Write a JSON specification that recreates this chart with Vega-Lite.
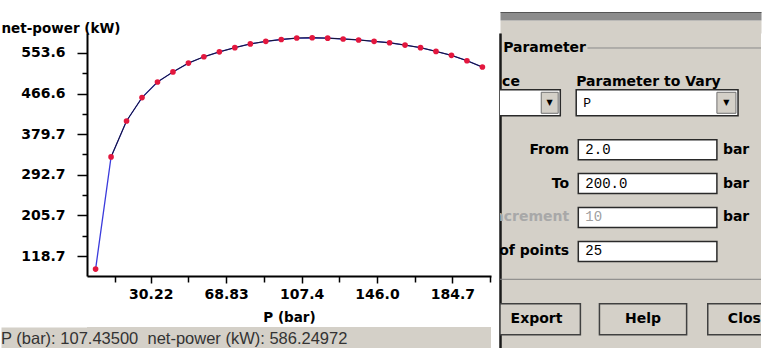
{
 "$schema": "https://vega.github.io/schema/vega-lite/v6.json",
 "background": "white",
 "padding": {"left": 0, "top": 12, "right": 0, "bottom": 0},
 "config": {"view": {"stroke": null}, "font": "DejaVu Sans"},
 "datasets": {
  "curve": [
   {"P": 2, "power": 90.7}, {"P": 9.92, "power": 331}, {"P": 17.84, "power": 408}, {"P": 25.76, "power": 458},
   {"P": 33.68, "power": 491.5}, {"P": 41.6, "power": 513}, {"P": 49.52, "power": 532}, {"P": 57.44, "power": 545.5},
   {"P": 65.36, "power": 556}, {"P": 73.28, "power": 565}, {"P": 81.2, "power": 573}, {"P": 89.12, "power": 578.5},
   {"P": 97.04, "power": 582.5}, {"P": 104.96, "power": 585.6}, {"P": 112.88, "power": 586.2}, {"P": 120.8, "power": 585.4},
   {"P": 128.72, "power": 583.6}, {"P": 136.64, "power": 581.5}, {"P": 144.56, "power": 578.5}, {"P": 152.48, "power": 575.5},
   {"P": 160.4, "power": 570.5}, {"P": 168.32, "power": 565}, {"P": 176.24, "power": 557}, {"P": 184.16, "power": 548.5},
   {"P": 192.08, "power": 537}, {"P": 200, "power": 523.5}
  ],
  "status": [{"text": "P (bar): 107.43500\u00a0\u00a0net-power (kW): 586.24972"}],
  "dialog": [
   {"row": "group", "label": "Parameter"},
   {"row": "header", "pre": "ce", "label": "Parameter to Vary"},
   {"row": "combo", "value": "P"},
   {"row": "from", "kind": "field", "label": "From", "value": "2.0", "unit": "bar"},
   {"row": "to", "kind": "field", "label": "To", "value": "200.0", "unit": "bar"},
   {"row": "inc", "kind": "field", "label": "Increment", "value": "10", "unit": "bar"},
   {"row": "pts", "kind": "field", "label": "# of points", "value": "25"},
   {"row": "sep"},
   {"row": "buttons", "b1": "Export", "b2": "Help", "b3": "Close"}
  ]
 },
 "columns": 2,
 "align": "none",
 "spacing": 8,
 "concat": [
  {
   "columns": 1,
   "align": "none",
   "spacing": 3,
   "concat": [
    {
     "width": 404,
     "height": 243,
     "data": {"name": "curve"},
     "resolve": {"axis": {"x": "independent", "y": "independent"}},
     "layer": [
      {
       "mark": {"type": "line", "color": "#3b3bdc", "strokeWidth": 1.3},
       "encoding": {
        "x": {"field": "P", "type": "quantitative", "scale": {"domain": [-2.4, 204.4], "nice": false, "zero": false},
         "axis": {"orient": "bottom", "values": [30.22, 68.83, 107.44, 146.04, 184.66], "labelExpr": "format(datum.value, '.4r')", "grid": false,
          "domainColor": "#000", "domainWidth": 2, "tickColor": "#000", "tickWidth": 1.5, "tickSize": 7,
          "labelFont": "DejaVu Sans", "labelFontSize": 14, "labelFontWeight": "bold", "labelColor": "#000", "labelPadding": 4,
          "title": "P (bar)", "titleFont": "DejaVu Sans", "titleFontSize": 13.5, "titleFontWeight": "bold", "titleColor": "#000", "titlePadding": 9}},
        "y": {"field": "power", "type": "quantitative", "scale": {"domain": [75.9, 596.4], "nice": false, "zero": false},
         "axis": {"orient": "left", "values": [118.7, 205.7, 292.7, 379.7, 466.6, 553.6], "format": ".1f", "grid": false,
          "domainColor": "#000", "domainWidth": 2, "tickColor": "#000", "tickWidth": 1.5, "tickSize": 10,
          "labelFont": "DejaVu Sans", "labelFontSize": 14, "labelFontWeight": "bold", "labelColor": "#000", "labelPadding": 12,
          "title": "net-power (kW)", "titleAngle": 0, "titleX": -86, "titleY": -18, "titleAlign": "left", "titleBaseline": "line-top", "titleLineHeight": 26,
          "titleFont": "DejaVu Sans", "titleFontSize": 13.5, "titleFontWeight": "bold", "titleColor": "#000"}}
       }
      },
      {
       "transform": [{"filter": "datum.P > 5"}],
       "mark": {"type": "line", "color": "#15152a", "strokeWidth": 1},
       "encoding": {
        "x": {"field": "P", "type": "quantitative",
         "axis": {"orient": "bottom", "values": [11.91, 49.52, 88.13, 126.74, 165.35, 203.96], "labels": false, "domain": false, "grid": false,
          "tickColor": "#000", "tickWidth": 1.5, "tickSize": 6, "title": null}},
        "y": {"field": "power", "type": "quantitative",
         "axis": {"orient": "left", "values": [162.2, 249.2, 336.2, 423.15, 510.1], "labels": false, "domain": false, "grid": false,
          "tickColor": "#000", "tickWidth": 1.5, "tickSize": 5, "title": null}}
       }
      },
      {
       "mark": {"type": "circle", "color": "#e3173e", "opacity": 1, "size": 32},
       "encoding": {
        "x": {"field": "P", "type": "quantitative", "axis": null},
        "y": {"field": "power", "type": "quantitative", "axis": null}
       }
      }
     ]
    },
    {
     "width": 404,
     "height": 22,
     "view": {"fill": "#d4d0c8", "stroke": null},
     "data": {"name": "status"},
     "mark": {"type": "text", "align": "left", "baseline": "middle", "font": "Liberation Sans", "fontSize": 16.5, "color": "#333", "dy": 1},
     "encoding": {
      "x": {"datum": -0.2129, "type": "quantitative", "scale": {"domain": [0, 1]}, "axis": null},
      "y": {"datum": 0.5, "type": "quantitative", "scale": {"domain": [0, 1]},
       "axis": {"orient": "left", "labels": false, "ticks": false, "title": null, "grid": false, "domainColor": "#d4d0c8", "domainWidth": 172}},
      "text": {"field": "text"}
     }
    }
   ]
  },
  {
   "width": 261,
   "height": 315,
   "view": {"fill": "#d4d0c8", "stroke": null},
   "data": {"name": "dialog"},
   "resolve": {"axis": {"x": "independent"}},
   "encoding": {
    "y": {"field": "row", "type": "nominal", "sort": null,
     "scale": {"type": "band", "domain": ["group", "header", "combo", "from", "to", "inc", "pts", "sep", "buttons"], "paddingInner": 0.3, "paddingOuter": 0.296, "align": 0.156},
     "axis": {"labels": false, "ticks": false, "title": null, "grid": false, "domainColor": "#1a1a1a", "domainWidth": 2.5}}
   },
   "layer": [
    {
     "transform": [{"filter": "datum.row === 'group'"}],
     "mark": {"type": "text", "align": "left", "baseline": "middle", "fontSize": 14, "fontWeight": "bold", "color": "#000"},
     "encoding": {"x": {"datum": 0.012, "type": "quantitative", "scale": {"domain": [0, 1]},
       "axis": {"orient": "top", "offset": 6.5, "labels": false, "ticks": false, "title": null, "grid": false, "domainColor": "#d4d0c8", "domainWidth": 13}}, "text": {"field": "label"}}
    },
    {
     "transform": [{"filter": "datum.row === 'group'"}],
     "mark": {"type": "rule", "color": "#8a8a8a", "strokeWidth": 1},
     "encoding": {"x": {"datum": 0.335, "type": "quantitative", "scale": {"domain": [0, 1]},
       "axis": {"orient": "top", "offset": 17, "labels": false, "ticks": false, "title": null, "grid": false, "domainColor": "#8c8c8c", "domainWidth": 8}}, "x2": {"datum": 1}}
    },
    {
     "transform": [{"filter": "datum.row === 'header'"}],
     "mark": {"type": "text", "align": "left", "baseline": "middle", "fontSize": 14, "fontWeight": "bold", "color": "#000"},
     "encoding": {"x": {"datum": 0.008, "type": "quantitative", "scale": {"domain": [0, 1]},
       "axis": {"orient": "top", "offset": 21, "labels": false, "ticks": false, "title": null, "grid": false, "domainColor": "#555555", "domainWidth": 1}}, "text": {"field": "pre"}}
    },
    {
     "transform": [{"filter": "datum.row === 'header'"}],
     "mark": {"type": "text", "align": "left", "baseline": "middle", "fontSize": 14, "fontWeight": "bold", "color": "#000"},
     "encoding": {"x": {"datum": 0.292, "type": "quantitative", "scale": {"domain": [0, 1]}, "axis": null}, "text": {"field": "label"}}
    },
    {
     "transform": [{"filter": "datum.row === 'combo'"}],
     "mark": {"type": "rect", "fill": "#ffffff", "stroke": "#2a2a2a", "strokeWidth": 1.5, "height": 26, "clip": true, "yOffset": -13},
     "encoding": {"x": {"datum": -0.046, "type": "quantitative", "scale": {"domain": [0, 1]}, "axis": null}, "x2": {"datum": 0.231}}
    },
    {
     "transform": [{"filter": "datum.row === 'combo'"}],
     "mark": {"type": "rect", "fill": "#ffffff", "stroke": "#2a2a2a", "strokeWidth": 1.5, "height": 26, "yOffset": -13},
     "encoding": {"x": {"datum": 0.292, "type": "quantitative", "scale": {"domain": [0, 1]}, "axis": null}, "x2": {"datum": 0.912}}
    },
    {
     "transform": [{"filter": "datum.row === 'combo'"}],
     "mark": {"type": "rect", "fill": "#d4d0c8", "stroke": "#707070", "strokeWidth": 1, "height": 21, "yOffset": -13},
     "encoding": {"x": {"datum": 0.158, "type": "quantitative", "scale": {"domain": [0, 1]}, "axis": null}, "x2": {"datum": 0.223}}
    },
    {
     "transform": [{"filter": "datum.row === 'combo'"}],
     "mark": {"type": "rect", "fill": "#d4d0c8", "stroke": "#707070", "strokeWidth": 1, "height": 21, "yOffset": -13},
     "encoding": {"x": {"datum": 0.831, "type": "quantitative", "scale": {"domain": [0, 1]}, "axis": null}, "x2": {"datum": 0.904}}
    },
    {
     "transform": [{"filter": "datum.row === 'combo'"}],
     "mark": {"type": "text", "text": "▼", "fontSize": 8, "color": "#000", "align": "center", "baseline": "middle", "yOffset": -13},
     "encoding": {"x": {"datum": 0.19, "type": "quantitative", "scale": {"domain": [0, 1]}, "axis": null}}
    },
    {
     "transform": [{"filter": "datum.row === 'combo'"}],
     "mark": {"type": "text", "text": "▼", "fontSize": 8, "color": "#000", "align": "center", "baseline": "middle", "yOffset": -13},
     "encoding": {"x": {"datum": 0.867, "type": "quantitative", "scale": {"domain": [0, 1]}, "axis": null}}
    },
    {
     "transform": [{"filter": "datum.row === 'combo'"}],
     "mark": {"type": "text", "align": "left", "baseline": "middle", "font": "Liberation Mono", "fontSize": 13, "color": "#000", "yOffset": -13},
     "encoding": {"x": {"datum": 0.319, "type": "quantitative", "scale": {"domain": [0, 1]}, "axis": null}, "text": {"field": "value"}}
    },
    {
     "transform": [{"filter": "datum.kind === 'field'"}],
     "mark": {"type": "rect", "fill": "#ffffff", "stroke": "#2a2a2a", "strokeWidth": 1.5, "height": 20},
     "encoding": {"x": {"datum": 0.3, "type": "quantitative", "scale": {"domain": [0, 1]}, "axis": null}, "x2": {"datum": 0.831}}
    },
    {
     "transform": [{"filter": "datum.kind === 'field'"}],
     "mark": {"type": "text", "align": "right", "baseline": "middle", "fontSize": 14, "fontWeight": "bold", "clip": true},
     "encoding": {"x": {"datum": 0.265, "type": "quantitative", "scale": {"domain": [0, 1]}, "axis": null},
      "text": {"field": "label"},
      "color": {"condition": {"test": "datum.row === 'inc'", "value": "#a8a8a8"}, "value": "#000"}}
    },
    {
     "transform": [{"filter": "datum.kind === 'field'"}],
     "mark": {"type": "text", "align": "left", "baseline": "middle", "font": "Liberation Mono", "fontSize": 14},
     "encoding": {"x": {"datum": 0.327, "type": "quantitative", "scale": {"domain": [0, 1]}, "axis": null},
      "text": {"field": "value"},
      "color": {"condition": {"test": "datum.row === 'inc'", "value": "#a0a0a0"}, "value": "#000"}}
    },
    {
     "transform": [{"filter": "datum.kind === 'field' && datum.unit != null"}],
     "mark": {"type": "text", "align": "left", "baseline": "middle", "fontSize": 14, "fontWeight": "bold", "color": "#000"},
     "encoding": {"x": {"datum": 0.854, "type": "quantitative", "scale": {"domain": [0, 1]}, "axis": null}, "text": {"field": "unit"}}
    },
    {
     "transform": [{"filter": "datum.row === 'sep'"}],
     "mark": {"type": "rule", "color": "#808080", "strokeWidth": 1, "yOffset": -6},
     "encoding": {"x": {"datum": 0, "type": "quantitative", "scale": {"domain": [0, 1]}, "axis": null}, "x2": {"datum": 1}}
    },
    {
     "transform": [{"filter": "datum.row === 'buttons'"}],
     "mark": {"type": "rect", "fill": "#d4d0c8", "stroke": "#404040", "strokeWidth": 1.5, "height": 31, "clip": true},
     "encoding": {"x": {"datum": 0.0, "type": "quantitative", "scale": {"domain": [0, 1]}, "axis": null}, "x2": {"datum": 0.308}}
    },
    {
     "transform": [{"filter": "datum.row === 'buttons'"}],
     "mark": {"type": "rect", "fill": "#d4d0c8", "stroke": "#404040", "strokeWidth": 1.5, "height": 31},
     "encoding": {"x": {"datum": 0.381, "type": "quantitative", "scale": {"domain": [0, 1]}, "axis": null}, "x2": {"datum": 0.715}}
    },
    {
     "transform": [{"filter": "datum.row === 'buttons'"}],
     "mark": {"type": "rect", "fill": "#d4d0c8", "stroke": "#404040", "strokeWidth": 1.5, "height": 31, "clip": true},
     "encoding": {"x": {"datum": 0.796, "type": "quantitative", "scale": {"domain": [0, 1]}, "axis": null}, "x2": {"datum": 1.2}}
    },
    {
     "transform": [{"filter": "datum.row === 'buttons'"}],
     "mark": {"type": "text", "align": "center", "baseline": "middle", "fontSize": 14, "fontWeight": "bold", "color": "#000"},
     "encoding": {"x": {"datum": 0.14, "type": "quantitative", "scale": {"domain": [0, 1]}, "axis": null}, "text": {"field": "b1"}}
    },
    {
     "transform": [{"filter": "datum.row === 'buttons'"}],
     "mark": {"type": "text", "align": "center", "baseline": "middle", "fontSize": 14, "fontWeight": "bold", "color": "#000"},
     "encoding": {"x": {"datum": 0.548, "type": "quantitative", "scale": {"domain": [0, 1]}, "axis": null}, "text": {"field": "b2"}}
    },
    {
     "transform": [{"filter": "datum.row === 'buttons'"}],
     "mark": {"type": "text", "align": "left", "baseline": "middle", "fontSize": 14, "fontWeight": "bold", "color": "#000", "clip": true},
     "encoding": {"x": {"datum": 0.873, "type": "quantitative", "scale": {"domain": [0, 1]}, "axis": null}, "text": {"field": "b3"}}
    }
   ]
  }
 ]
}
